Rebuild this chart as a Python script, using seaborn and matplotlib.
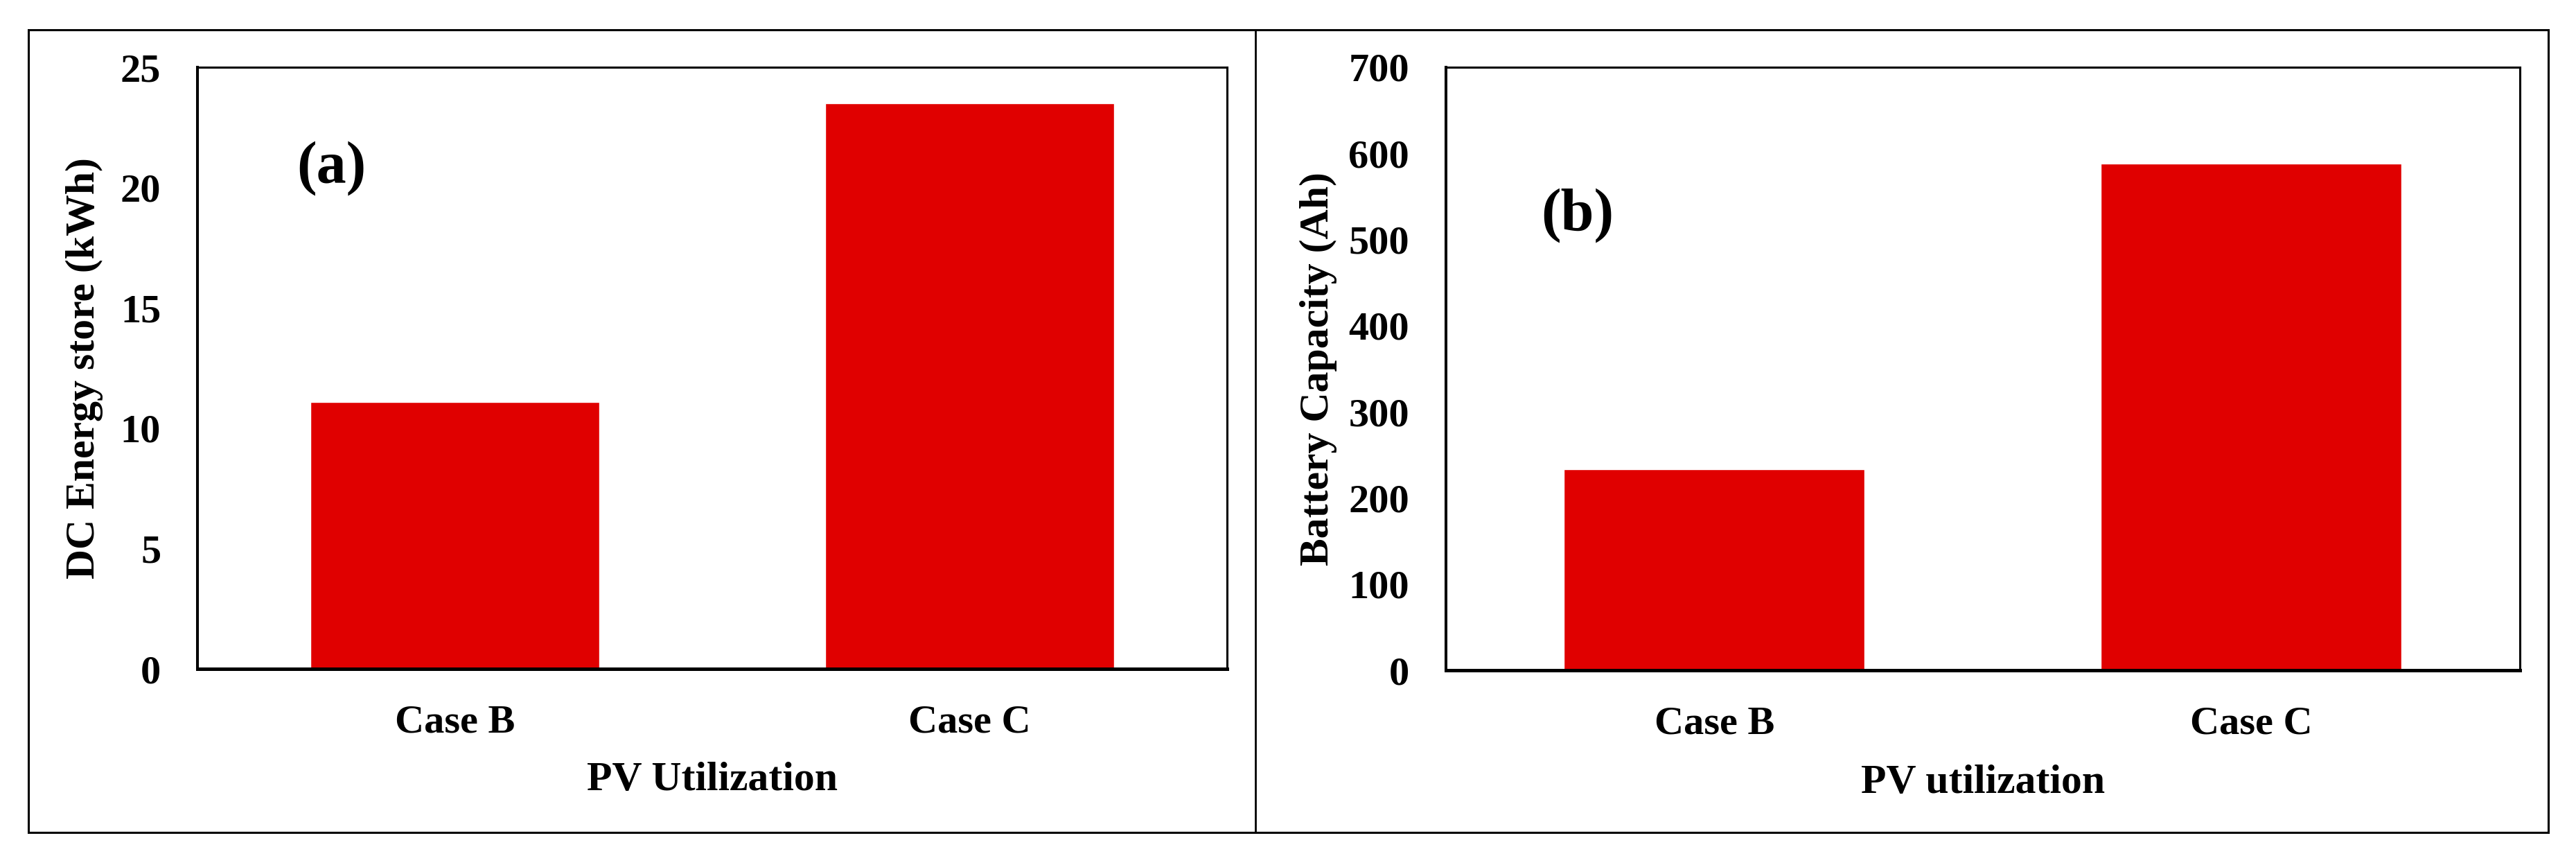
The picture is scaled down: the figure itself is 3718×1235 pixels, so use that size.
"""
Two-panel bar chart: DC energy store and battery capacity for cases B and C.
"""
import matplotlib
matplotlib.use("Agg")
import matplotlib.pyplot as plt
from matplotlib.patches import Rectangle
from matplotlib.lines import Line2D
import seaborn as sns

sns.set_theme(style="white")
plt.rcParams["font.family"] = ["Liberation Serif", "DejaVu Serif"]
plt.rcParams["font.weight"] = "bold"
for key in ("text.color", "axes.labelcolor", "xtick.color", "ytick.color"):
    plt.rcParams[key] = "black"

# data
cases = ["Case B", "Case C"]
energy_kwh = [11.1, 23.5]
capacity_ah = [233, 588]

RED = "#E00000"
TICK_FS = 42
LABEL_FS = 43
TAG_FS = 62

fig = plt.figure(figsize=(37.18, 12.35), dpi=100)
fig.patch.set_facecolor("white")

# outer frame and divider between the two panels
fig.add_artist(Rectangle((0.011, 0.0275), 0.9782, 0.9377, transform=fig.transFigure,
                         fill=False, edgecolor="black", linewidth=2.2))
fig.add_artist(Line2D([0.4874, 0.4874], [0.0275, 0.9652], transform=fig.transFigure,
                      color="black", linewidth=2.0))

ax_a = fig.add_axes([0.07665, 0.2186, 0.3997, 0.7028])
ax_b = fig.add_axes([0.5613, 0.2170, 0.4169, 0.7045])

panels = [
    (ax_a, energy_kwh, "DC Energy store (kWh)", "PV Utilization", (0, 25), range(0, 26, 5),
     "(a)", (0.13, 0.832), -0.110, -0.185),
    (ax_b, capacity_ah, "Battery Capacity (Ah)", "PV utilization", (0, 700), range(0, 701, 100),
     "(b)", (0.1226, 0.754), -0.119, -0.187),
]

for ax, vals, ylab, xlab, ylim, yt, tag, tagpos, ylx, xly in panels:
    sns.barplot(x=cases, y=vals, color=RED, saturation=1, width=0.56, ax=ax)
    ax.set_xlim(-0.5, 1.5)
    ax.set_ylim(*ylim)
    ax.set_yticks(list(yt))
    ax.tick_params(axis="both", length=0, labelsize=TICK_FS, colors="black")
    ax.tick_params(axis="x", pad=37)
    ax.tick_params(axis="y", pad=38)
    for lab in ax.get_xticklabels() + ax.get_yticklabels():
        lab.set_fontweight("bold")
    ax.set_ylabel(ylab, fontsize=LABEL_FS, fontweight="bold", color="black")
    ax.set_xlabel(xlab, fontsize=LABEL_FS, fontweight="bold", color="black")
    ax.yaxis.label.set_va("center")
    ax.xaxis.label.set_va("center")
    ax.yaxis.set_label_coords(ylx, 0.5)
    ax.xaxis.set_label_coords(0.5, xly)
    for side, sp in ax.spines.items():
        sp.set_visible(True)
        sp.set_color("black")
        sp.set_linewidth(2.2)
    ax.spines["bottom"].set_linewidth(3.6)
    ax.spines["left"].set_linewidth(2.9)
    ax.text(tagpos[0], tagpos[1], tag, transform=ax.transAxes, fontsize=TAG_FS,
            fontweight="bold", ha="center", va="center", color="black")

fig.savefig("out.png", dpi=100, facecolor="white")
